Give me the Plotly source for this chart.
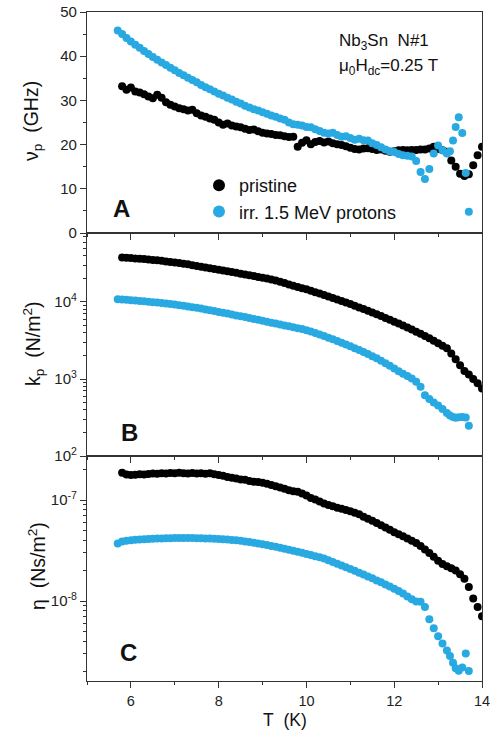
import plotly.graph_objects as go

# ---------------- data ----------------
T_pristine = [5.8, 5.9, 6.0, 6.1, 6.2, 6.3, 6.4, 6.5, 6.6, 6.7,
              6.8, 6.9, 7.0, 7.1, 7.2, 7.3, 7.4, 7.5, 7.6, 7.7,
              7.8, 7.9, 8.0, 8.1, 8.2, 8.3, 8.4, 8.5, 8.6, 8.7,
              8.8, 8.9, 9.0, 9.1, 9.2, 9.3, 9.4, 9.5, 9.6, 9.7,
              9.8, 9.9, 10.0, 10.1, 10.2, 10.3, 10.4, 10.5, 10.6, 10.7,
              10.8, 10.9, 11.0, 11.1, 11.2, 11.3, 11.4, 11.5, 11.6, 11.7,
              11.8, 11.9, 12.0, 12.1, 12.2, 12.3, 12.4, 12.5, 12.6, 12.7,
              12.8, 12.9, 13.0, 13.1, 13.2, 13.3, 13.4, 13.5, 13.6, 13.7,
              13.8, 13.9, 14.0]

T_irr = [5.7, 5.8, 5.9, 6.0, 6.1, 6.2, 6.3, 6.4, 6.5, 6.6,
         6.7, 6.8, 6.9, 7.0, 7.1, 7.2, 7.3, 7.4, 7.5, 7.6,
         7.7, 7.8, 7.9, 8.0, 8.1, 8.2, 8.3, 8.4, 8.5, 8.6,
         8.7, 8.8, 8.9, 9.0, 9.1, 9.2, 9.3, 9.4, 9.5, 9.6,
         9.7, 9.8, 9.9, 10.0, 10.1, 10.2, 10.3, 10.4, 10.5, 10.6,
         10.7, 10.8, 10.9, 11.0, 11.1, 11.2, 11.3, 11.4, 11.5, 11.6,
         11.7, 11.8, 11.9, 12.0, 12.1, 12.2, 12.3, 12.4, 12.5, 12.6,
         12.7, 12.8, 12.9, 13.0, 13.1, 13.2,
         13.27, 13.34, 13.40, 13.47, 13.55, 13.63, 13.70]

# panel A: pinning frequency nu_p (GHz)
nu_pristine = [33.2, 32.4, 32.9, 32.0, 31.8, 31.4, 30.9, 30.5, 31.3, 30.6,
               29.6, 29.0, 28.6, 28.2, 28.0, 27.7, 27.9, 27.1, 26.6, 26.3,
               25.9, 25.6, 25.0, 24.5, 24.8, 24.3, 24.1, 23.9, 23.6, 23.3,
               23.4, 23.0, 22.7, 22.5, 22.4, 22.2, 22.1, 21.9, 21.7, 21.8,
               19.5, 20.4, 21.0, 20.1, 20.6, 20.8, 20.5, 20.7, 20.3, 20.1,
               19.9, 19.6, 19.3, 19.0, 18.9, 19.1, 19.2, 19.0, 18.8, 18.9,
               18.6, 18.4, 18.5, 18.7, 18.8, 18.7, 18.8, 18.8, 18.9, 18.9,
               19.1, 19.5, 19.0, 18.7, 18.4, 16.4, 15.0, 13.4, 12.9, 13.3,
               15.3, 17.6, 19.5]
nu_irr = [45.8, 45.0, 44.1, 43.3, 42.6, 41.9, 41.2, 40.5, 39.8, 39.2,
          38.6, 38.0, 37.4, 36.8, 36.2, 35.7, 35.1, 34.6, 34.1, 33.5,
          33.0, 32.5, 32.0, 31.5, 31.1, 30.6, 30.2, 29.7, 29.3, 28.8,
          28.4, 28.0, 27.7, 27.3, 27.0, 26.6, 26.3, 25.9, 25.6, 25.0,
          24.6, 24.5, 24.3, 24.0, 23.9, 23.5, 23.1, 22.7, 22.5, 22.7,
          22.2, 21.8, 21.9, 21.5, 21.1, 21.3, 21.0, 20.9, 20.3, 19.9,
          19.4, 18.9, 18.5, 18.3, 17.9, 17.6, 17.5, 17.3, 16.3, 13.8,
          12.2, 14.5, 18.0, 19.8, 18.7, 18.0,
          18.5, 20.9, 24.0, 26.2, 22.6, 13.6, 4.8]

# panel B: Labusch constant k_p (N/m^2)
k_pristine = [3.78e4, 3.75e4, 3.72e4, 3.68e4, 3.64e4, 3.61e4, 3.57e4, 3.52e4, 3.48e4, 3.43e4,
              3.36e4, 3.31e4, 3.26e4, 3.20e4, 3.14e4, 3.08e4, 3.01e4, 2.94e4, 2.87e4, 2.81e4,
              2.74e4, 2.68e4, 2.62e4, 2.56e4, 2.50e4, 2.45e4, 2.39e4, 2.33e4, 2.28e4, 2.22e4,
              2.17e4, 2.11e4, 2.07e4, 2.02e4, 1.96e4, 1.90e4, 1.83e4, 1.76e4, 1.69e4, 1.63e4,
              1.57e4, 1.51e4, 1.46e4, 1.40e4, 1.34e4, 1.29e4, 1.23e4, 1.18e4, 1.13e4, 1.08e4,
              1.03e4, 9860, 9450, 8930, 8510, 8090, 7710, 7330, 6930, 6560,
              6210, 5860, 5550, 5240, 4940, 4660, 4400, 4120, 3870, 3630,
              3390, 3150, 2920, 2700, 2510, 2140, 1800, 1510, 1270, 1140,
              1000, 881, 750]
k_irr = [1.086e4, 1.079e4, 1.069e4, 1.057e4, 1.045e4, 1.033e4, 1.021e4, 1.009e4, 9954, 9817,
         9705, 9572, 9419, 9247, 9078, 8913, 8750, 8570, 8395, 8204,
         7998, 7816, 7621, 7430, 7244, 7063, 6887, 6699, 6531, 6368,
         6194, 6026, 5861, 5702, 5546, 5395, 5248, 5105, 4966, 4831,
         4699, 4571, 4446, 4305, 4140, 3963, 3784, 3606, 3436, 3273,
         3112, 2951, 2805, 2661, 2512, 2377, 2239, 2109, 1977, 1854,
         1730, 1607, 1486, 1365, 1259, 1169, 1096, 1012, 923, 794,
         617, 550, 495, 452, 407, 363,
         335, 320, 313, 318, 320, 316, 248]

# panel C: viscosity eta (Ns/m^2)
eta_pristine = [1.86e-7, 1.79e-7, 1.77e-7, 1.78e-7, 1.80e-7, 1.79e-7, 1.81e-7, 1.83e-7, 1.82e-7, 1.84e-7,
                1.83e-7, 1.85e-7, 1.84e-7, 1.86e-7, 1.84e-7, 1.83e-7, 1.85e-7, 1.83e-7, 1.84e-7, 1.82e-7,
                1.84e-7, 1.80e-7, 1.77e-7, 1.74e-7, 1.69e-7, 1.66e-7, 1.63e-7, 1.60e-7, 1.585e-7, 1.54e-7,
                1.52e-7, 1.51e-7, 1.48e-7, 1.45e-7, 1.41e-7, 1.37e-7, 1.33e-7, 1.29e-7, 1.25e-7, 1.22e-7,
                1.21e-7, 1.16e-7, 1.11e-7, 1.05e-7, 1.01e-7, 9.66e-8, 9.23e-8, 8.95e-8, 8.67e-8, 8.41e-8,
                8.22e-8, 7.98e-8, 7.76e-8, 7.50e-8, 7.24e-8, 6.84e-8, 6.53e-8, 6.24e-8, 5.92e-8, 5.62e-8,
                5.35e-8, 5.07e-8, 4.81e-8, 4.57e-8, 4.37e-8, 4.17e-8, 3.96e-8, 3.76e-8, 3.51e-8, 3.24e-8,
                2.99e-8, 2.74e-8, 2.51e-8, 2.33e-8, 2.21e-8, 2.11e-8, 2.00e-8, 1.84e-8, 1.66e-8, 1.38e-8,
                1.06e-8, 8.71e-9, 7.08e-9]
eta_irr = [3.72e-8, 3.89e-8, 3.96e-8, 4.00e-8, 4.04e-8, 4.07e-8, 4.10e-8, 4.12e-8, 4.14e-8, 4.16e-8,
           4.17e-8, 4.18e-8, 4.19e-8, 4.20e-8, 4.21e-8, 4.21e-8, 4.20e-8, 4.20e-8, 4.19e-8, 4.18e-8,
           4.17e-8, 4.15e-8, 4.13e-8, 4.11e-8, 4.08e-8, 4.06e-8, 4.03e-8, 3.99e-8, 3.95e-8, 3.89e-8,
           3.84e-8, 3.78e-8, 3.72e-8, 3.65e-8, 3.58e-8, 3.51e-8, 3.44e-8, 3.37e-8, 3.29e-8, 3.22e-8,
           3.15e-8, 3.08e-8, 3.00e-8, 2.92e-8, 2.85e-8, 2.78e-8, 2.71e-8, 2.64e-8, 2.54e-8, 2.44e-8,
           2.34e-8, 2.25e-8, 2.16e-8, 2.07e-8, 1.99e-8, 1.91e-8, 1.83e-8, 1.75e-8, 1.68e-8, 1.60e-8,
           1.53e-8, 1.46e-8, 1.39e-8, 1.32e-8, 1.26e-8, 1.19e-8, 1.11e-8, 1.04e-8, 9.89e-9, 9.84e-9,
           8.71e-9, 6.61e-9, 5.37e-9, 4.47e-9, 3.80e-9, 3.24e-9,
           2.85e-9, 2.45e-9, 2.16e-9, 2.04e-9, 2.20e-9, 3.02e-9, 2.03e-9]

series_names = ["pristine", "irr. 1.5 MeV protons"]
k_ticks = [1e2, 1e3, 1e4]
k_ticktext = ["10<sup>2</sup>", "10<sup>3</sup>", "10<sup>4</sup>"]
eta_ticks = [1e-8, 1e-7]
eta_ticktext = ["10<sup>-8</sup>", "10<sup>-7</sup>"]

# ---------------- style / geometry ----------------
FONT = "Arial, 'Liberation Sans', sans-serif"
BLUE = "#29a9e1"
BLACK = "#000000"
AXC = "#333333"
W, H = 496, 734
ML, MR, MT, MB = 87, 14, 12, 53
PW, PH = W - ML - MR, H - MT - MB
NB = "\u00a0"


def xp(px):
    return (px - ML) / PW


def yp(py):
    return (H - MB - py) / PH


dom_A = [yp(233), 1.0]
dom_B = [yp(456), yp(233)]
dom_C = [0.0, yp(456)]

fig = go.Figure()
panel_data = [("x", "y", nu_pristine, nu_irr),
              ("x2", "y2", k_pristine, k_irr),
              ("x3", "y3", eta_pristine, eta_irr)]
for i, (xa, ya, vp, vi) in enumerate(panel_data):
    fig.add_trace(go.Scatter(x=T_pristine, y=vp, mode="markers", name=series_names[0],
                             marker=dict(color=BLACK, size=8, line=dict(width=0)),
                             xaxis=xa, yaxis=ya, showlegend=(i == 0)))
    fig.add_trace(go.Scatter(x=T_irr, y=vi, mode="markers", name=series_names[1],
                             marker=dict(color=BLUE, size=8, line=dict(width=0)),
                             xaxis=xa, yaxis=ya, showlegend=(i == 0)))

base = dict(showline=True, linecolor=AXC, linewidth=1.2, mirror=True,
            ticks="outside", ticklen=6, tickwidth=1.2, tickcolor=AXC,
            showgrid=False, zeroline=False, automargin=False)
xfont = dict(family=FONT, size=14.5, color="#222")
yfont = dict(family=FONT, size=15, color="#222")
minor_out = dict(ticks="outside", ticklen=3, tickwidth=1, tickcolor=AXC, showgrid=False)
minor_in = dict(ticks="inside", ticklen=3, tickwidth=1, tickcolor=AXC, showgrid=False)
over = dict(showline=False, ticks="inside", ticklen=6, tickwidth=1.2, tickcolor=AXC,
            showgrid=False, zeroline=False, showticklabels=False, automargin=False)

xcommon = dict(range=[5, 14], tick0=0, dtick=2, minor=dict(dtick=1, **minor_out), tickfont=xfont)
xover = dict(range=[5, 14], tick0=0, dtick=2, minor=dict(dtick=1, **minor_in))

k_minor = [m * 10 ** e for e in (2, 3, 4) for m in range(2, 10)]
eta_minor = [m * 10.0 ** e for e in (-9, -8, -7) for m in range(2, 10)]

fig.update_layout(
    width=W, height=H,
    margin=dict(l=ML, r=MR, t=MT, b=MB, pad=0, autoexpand=False),
    paper_bgcolor="white", plot_bgcolor="white",
    font=dict(family=FONT, size=14, color="#111"),
    xaxis=dict(**base, **xcommon, anchor="y", showticklabels=False),
    xaxis2=dict(**base, **xcommon, anchor="y2", matches="x", showticklabels=False),
    xaxis3=dict(**base, **xcommon, anchor="y3", matches="x"),
    yaxis=dict(**base, domain=dom_A, anchor="x", range=[0, 50], dtick=10, tickfont=yfont,
               minor=dict(dtick=5, **minor_out)),
    yaxis2=dict(**base, domain=dom_B, anchor="x2", type="log", range=[2, 4.896], tickfont=yfont,
                tickmode="array", tickvals=k_ticks, ticktext=k_ticktext,
                minor=dict(tickmode="array", tickvals=k_minor, **minor_out)),
    yaxis3=dict(**base, domain=dom_C, anchor="x3", type="log", range=[-8.792, -6.564], tickfont=yfont,
                tickmode="array", tickvals=eta_ticks, ticktext=eta_ticktext,
                minor=dict(tickmode="array", tickvals=eta_minor, **minor_out)),
    # inward mirror ticks (top / right)
    xaxis4=dict(**over, **xover, overlaying="x", anchor="y", side="top"),
    xaxis5=dict(**over, **xover, overlaying="x2", anchor="y2", side="top"),
    xaxis6=dict(**over, **xover, overlaying="x3", anchor="y3", side="top"),
    yaxis4=dict(**over, overlaying="y", anchor="x", side="right", range=[0, 50], dtick=10,
                minor=dict(dtick=5, **minor_in)),
    yaxis5=dict(**over, overlaying="y2", anchor="x2", side="right", type="log", range=[2, 4.896],
                tickmode="array", tickvals=k_ticks,
                minor=dict(tickmode="array", tickvals=k_minor, **minor_in)),
    yaxis6=dict(**over, overlaying="y3", anchor="x3", side="right", type="log", range=[-8.792, -6.564],
                tickmode="array", tickvals=eta_ticks,
                minor=dict(tickmode="array", tickvals=eta_minor, **minor_in)),
    legend=dict(x=xp(199), y=yp(167), xanchor="left", yanchor="top",
                bgcolor="rgba(0,0,0,0)", borderwidth=0, tracegroupgap=0,
                font=dict(family=FONT, size=18, color="#111"), itemsizing="constant"),
    showlegend=True,
)

ann = []


def add_text(text, x, y, size, xanchor="center", yanchor="middle", angle=0):
    ann.append(dict(text=text, x=xp(x), y=yp(y), xref="paper", yref="paper",
                    xanchor=xanchor, yanchor=yanchor, textangle=angle, showarrow=False,
                    font=dict(family=FONT, size=size, color="#111")))


add_text("ν<sub>p</sub>" + NB * 2 + "(GHz)", 33, 121, 19.5, angle=-90)
add_text("k<sub>p</sub>" + NB * 2 + "(N/m<sup>2</sup>)", 33, 344, 19.5, angle=-90)
add_text("η" + NB * 2 + "(Ns/m<sup>2</sup>)", 37, 566, 19.5, angle=-90)
add_text("T" + NB * 2 + "(K)", 285, 720, 17.5)
add_text("<b>A</b>", 121, 208, 24)
add_text("<b>B</b>", 129, 432, 24)
add_text("<b>C</b>", 128, 652, 24)
add_text("Nb<sub>3</sub>Sn" + NB * 2 + "N#1", 337, 42, 17, xanchor="left")
add_text("μ<sub>0</sub>H<sub>dc</sub>=0.25 T", 337, 67, 17, xanchor="left")
fig.update_layout(annotations=ann)

fig.write_html("out.html",
               config={"displayModeBar": False},
               post_script="document.body.style.margin='0';document.body.style.overflow='hidden';")
